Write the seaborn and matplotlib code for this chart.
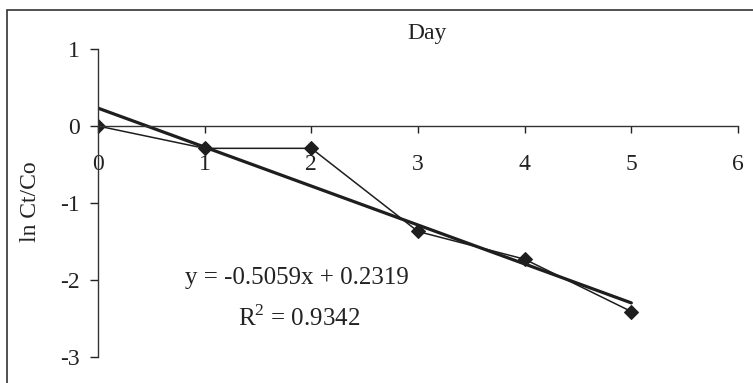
import numpy as np
import pandas as pd
import matplotlib
matplotlib.use("Agg")
import matplotlib.pyplot as plt
from matplotlib.patches import Rectangle
import seaborn as sns

days = [0, 1, 2, 3, 4, 5]
ln_ct_co = [0.0, -0.29, -0.29, -1.37, -1.73, -2.41]
slope = -0.5059
intercept = 0.2319
eq_text = "y = -0.5059x + 0.2319"
r2_text = "R$^{2}$ = 0.9342"
x_ticks = [0, 1, 2, 3, 4, 5, 6]
y_ticks = [1, 0, -1, -2, -3]

sns.set_style("white")
plt.rcParams["font.family"] = ["Liberation Serif", "DejaVu Serif"]
plt.rcParams["mathtext.fontset"] = "custom"
plt.rcParams["mathtext.rm"] = "Liberation Serif"

W, H = 753, 383
fig = plt.figure(figsize=(W / 100, H / 100), dpi=100)
ax = fig.add_axes([98 / W, 1 - 357 / H, (738 - 98) / W, (357 - 49) / H])

df = pd.DataFrame({"day": days, "val": ln_ct_co})
trend = pd.DataFrame({"day": [days[0], days[-1]]})
trend["val"] = slope * trend["day"] + intercept

ink = "#1e1e1e"
sns.lineplot(data=trend, x="day", y="val", ax=ax, color=ink, lw=2.3)
sns.lineplot(data=df, x="day", y="val", ax=ax, color=ink, lw=1.1,
             marker="D", markersize=7, markeredgecolor=ink, markerfacecolor=ink)

ax.spines["bottom"].set_position(("data", 0))
for s in ["top", "right"]:
    ax.spines[s].set_visible(False)
for s in ["bottom", "left"]:
    ax.spines[s].set_color("#333333")
    ax.spines[s].set_linewidth(1.0)

ax.set_xlim(0, 6)
ax.set_ylim(-3, 1)
ax.set_xticks(x_ticks)
ax.set_yticks(y_ticks)
ax.set_xticklabels([str(t) for t in x_ticks])
ax.set_yticklabels([str(t) for t in y_ticks])
ax.tick_params(axis="x", bottom=True, direction="out", length=5, width=1, pad=15,
               colors="#222222", labelsize=17)
ax.tick_params(axis="y", left=True, direction="out", length=6, width=1, pad=7,
               colors="#222222", labelsize=17)
ax.set_xlabel("")
ax.set_ylabel("")
ax.patch.set_alpha(0)

fig.text(427 / W, 1 - 33 / H, "Day", ha="center", va="center", fontsize=17, color="#222222")
fig.text(30 / W, 1 - 202 / H, "ln Ct/Co", rotation=90, ha="center", va="center",
         fontsize=17, color="#222222")
fig.text(297 / W, 1 - 278 / H, eq_text, ha="center", va="center", fontsize=18, color="#222222")
fig.text(299 / W, 1 - 318 / H, r2_text, ha="center", va="center", fontsize=18, color="#222222")

fig.patches.append(Rectangle((7 / W, -0.2), 1.2, 1.2 - 10 / H, transform=fig.transFigure,
                             fill=False, edgecolor="#333333", lw=1.2))

fig.savefig("out.png", dpi=100, facecolor="white")
